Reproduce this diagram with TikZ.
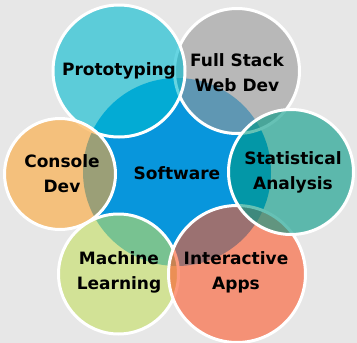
\documentclass[tikz,border=0pt]{standalone}
\usepackage{fontspec}
\setmainfont{DejaVu Sans}
\definecolor{bg}{RGB}{231,231,231}
\definecolor{cblue}{RGB}{8,150,220}
\definecolor{cproto}{RGB}{0,186,208}
\definecolor{cfull}{RGB}{153,153,153}
\definecolor{cstat}{RGB}{0,153,133}
\definecolor{cinter}{RGB}{253,89,43}
\definecolor{cml}{RGB}{196,224,96}
\definecolor{ccons}{RGB}{254,166,53}
\tikzset{
  bubble/.style={circle, inner sep=0pt, draw=white, line width=3pt, fill opacity=0.6, draw opacity=1},
  lbl/.style={font=\bfseries\fontsize{17}{25}\selectfont, align=center, text=black, inner sep=0pt}
}
\begin{document}
\begin{tikzpicture}[x=1pt,y=-1pt]
\fill[bg] (0,0) rectangle (357,343);
\useasboundingbox (0,0) rectangle (357,343);
\node[circle, inner sep=0pt, fill=cblue, minimum size=188pt] (soft) at (177,172) {};
\node[bubble, fill=cfull, minimum size=125pt] (full) at (237,71) {};
\node[bubble, fill=cproto, minimum size=132pt] (proto) at (119,71) {};
\node[bubble, fill=ccons, minimum size=111pt] (cons) at (60,174) {};
\node[bubble, fill=cml, minimum size=120pt] (ml) at (118.5,274) {};
\node[bubble, fill=cinter, minimum size=137pt] (inter) at (237,274) {};
\node[bubble, fill=cstat, minimum size=125pt] (stat) at (291,172) {};
\node[lbl] (softL) at (177,173) {Software};
\node[lbl] (protoL) at (119,71) {Prototyping};
\node[lbl] (fullL) at (237,73) {Full Stack\\Web Dev};
\node[lbl] (statL) at (293,172) {Statistical\\Analysis};
\node[lbl] (interL) at (236,272) {Interactive\\Apps};
\node[lbl] (mlL) at (119,272.5) {Machine\\Learning};
\node[lbl] (consL) at (62,174) {Console\\Dev};
\end{tikzpicture}
\end{document}
